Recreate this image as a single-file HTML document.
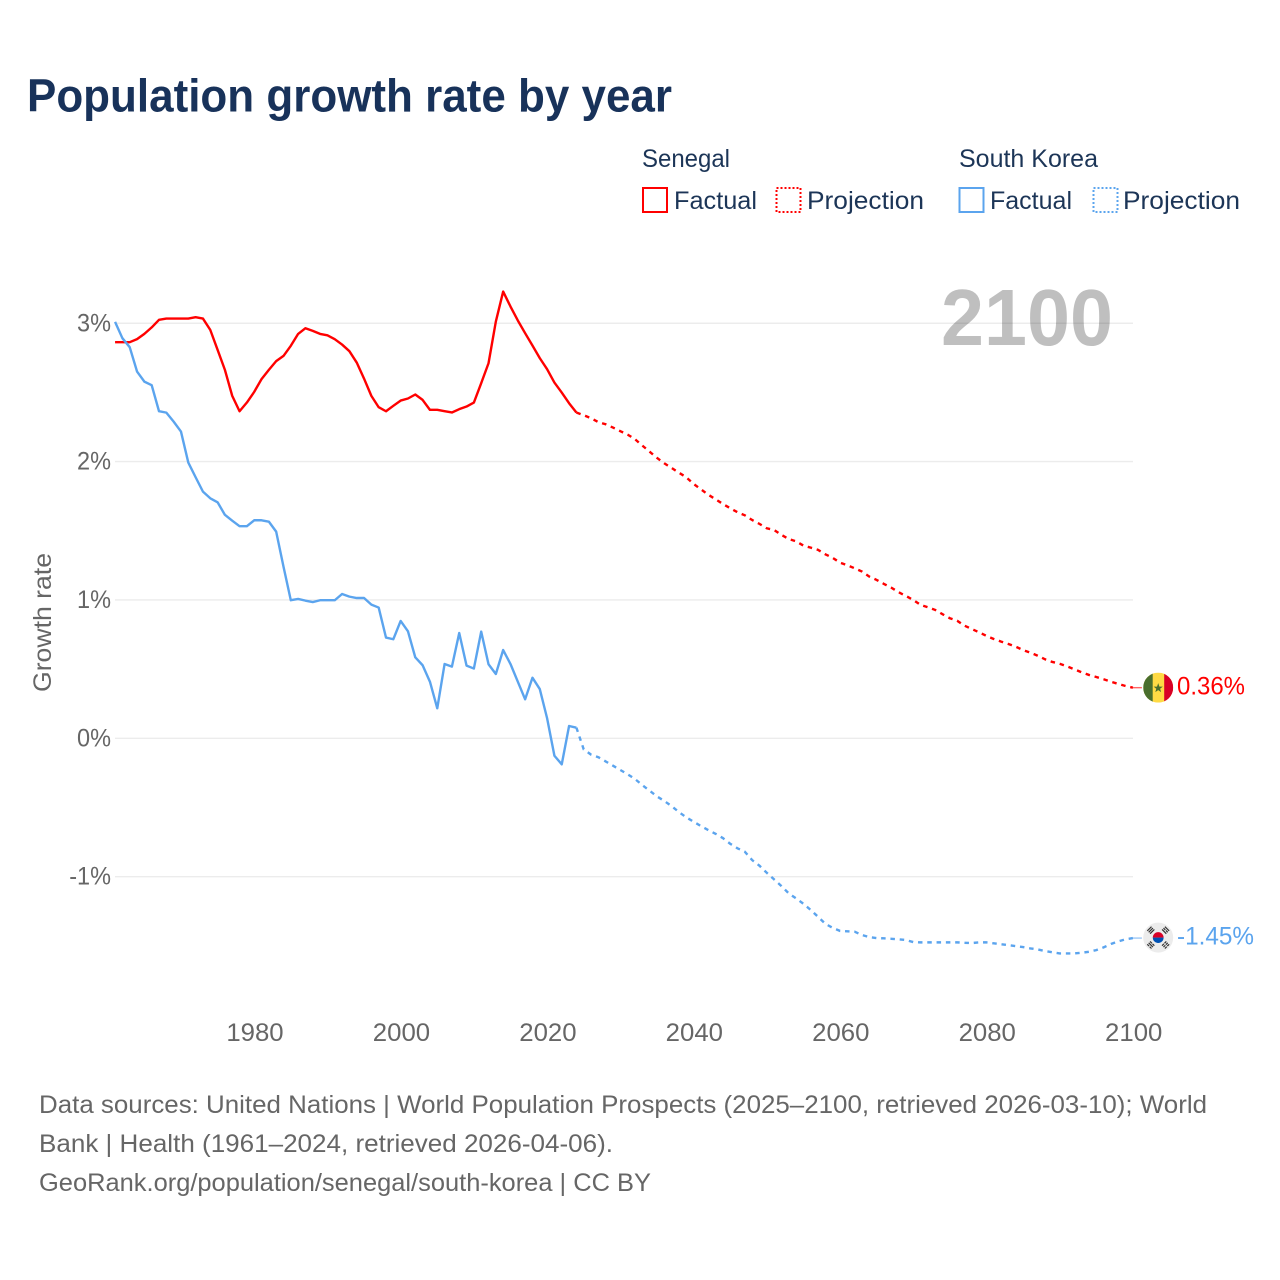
<!DOCTYPE html>
<html lang="en">
<head>
<meta charset="utf-8">
<title>Population growth rate by year</title>
<style>
html,body{margin:0;padding:0;background:#fff;}
svg{display:block;font-family:"Liberation Sans",sans-serif;}
</style>
</head>
<body>
<svg id="chart" xmlns="http://www.w3.org/2000/svg" width="1280" height="1280" viewBox="0 0 1280 1280">
  <rect x="0" y="0" width="1280" height="1280" fill="#ffffff"/>
  <text x="27" y="111.5" font-size="46" font-weight="700" fill="#18325a" textLength="645" lengthAdjust="spacingAndGlyphs">Population growth rate by year</text>

  <g font-size="25" fill="#1c3557">
    <text x="642" y="167" textLength="88" lengthAdjust="spacingAndGlyphs">Senegal</text>
    <text x="959" y="167" textLength="139" lengthAdjust="spacingAndGlyphs">South Korea</text>
    <rect x="643" y="188" width="24" height="24" fill="none" stroke="#ff0000" stroke-width="2"/>
    <text x="674" y="209" textLength="83" lengthAdjust="spacingAndGlyphs">Factual</text>
    <rect x="776.5" y="188" width="24" height="24" fill="none" stroke="#ff0000" stroke-width="2" stroke-dasharray="2 2"/>
    <text x="807" y="209" textLength="117" lengthAdjust="spacingAndGlyphs">Projection</text>
    <rect x="959.5" y="188" width="24" height="24" fill="none" stroke="#5ba4ee" stroke-width="2"/>
    <text x="990" y="209" textLength="82" lengthAdjust="spacingAndGlyphs">Factual</text>
    <rect x="1093.5" y="188" width="24" height="24" fill="none" stroke="#5ba4ee" stroke-width="2" stroke-dasharray="2 2"/>
    <text x="1123" y="209" textLength="117" lengthAdjust="spacingAndGlyphs">Projection</text>
  </g>

  <text transform="translate(51 692) rotate(-90)" font-size="25" fill="#666666" textLength="139" lengthAdjust="spacingAndGlyphs">Growth rate</text>

  <g id="grid"></g>
  <g id="yTicks" font-size="25" fill="#666666" text-anchor="end"></g>
  <g id="xTicks" font-size="25" fill="#666666" text-anchor="middle"></g>
  <text x="1113" y="345" font-size="80" font-weight="700" fill="#000000" fill-opacity="0.25" text-anchor="end" textLength="172" lengthAdjust="spacingAndGlyphs">2100</text>
  <g id="series"></g>

  <g id="flagSn">
    <clipPath id="clipSn"><circle cx="15" cy="15" r="15"/></clipPath>
    <g clip-path="url(#clipSn)">
      <rect x="0" y="0" width="30" height="30" fill="#ffda44"/>
      <rect x="0" y="0" width="9.5" height="30" fill="#496e2d"/>
      <rect x="21" y="0" width="9" height="30" fill="#d80027"/>
      <polygon points="15,10.5 16.2,13.9 19.6,14 16.9,16.1 17.9,19.5 15,17.5 12.1,19.5 13.1,16.1 10.4,14 13.8,13.9" fill="#496e2d"/>
    </g>
  </g>
  <g id="flagKr">
    <circle cx="15" cy="15" r="15" fill="#ececec"/>
    <clipPath id="clipKr"><circle cx="15" cy="15" r="5.4"/></clipPath>
    <g clip-path="url(#clipKr)">
      <rect x="9" y="9" width="12" height="6" fill="#d80027"/>
      <rect x="9" y="15" width="12" height="6" fill="#0052b4"/>
    </g>
    <g fill="#333333">
      <g transform="translate(7.6 7.6) rotate(-45)"><rect x="-3" y="-2.6" width="6" height="1.2"/><rect x="-3" y="-0.6" width="6" height="1.2"/><rect x="-3" y="1.4" width="6" height="1.2"/></g>
      <g transform="translate(22.4 7.6) rotate(45)"><rect x="-3" y="-2.6" width="6" height="1.2"/><rect x="-3" y="-0.6" width="2.6" height="1.2"/><rect x="0.4" y="-0.6" width="2.6" height="1.2"/><rect x="-3" y="1.4" width="6" height="1.2"/></g>
      <g transform="translate(7.6 22.4) rotate(45)"><rect x="-3" y="-2.6" width="2.6" height="1.2"/><rect x="0.4" y="-2.6" width="2.6" height="1.2"/><rect x="-3" y="-0.6" width="6" height="1.2"/><rect x="-3" y="1.4" width="2.6" height="1.2"/><rect x="0.4" y="1.4" width="2.6" height="1.2"/></g>
      <g transform="translate(22.4 22.4) rotate(-45)"><rect x="-3" y="-2.6" width="2.6" height="1.2"/><rect x="0.4" y="-2.6" width="2.6" height="1.2"/><rect x="-3" y="-0.6" width="2.6" height="1.2"/><rect x="0.4" y="-0.6" width="2.6" height="1.2"/><rect x="-3" y="1.4" width="2.6" height="1.2"/><rect x="0.4" y="1.4" width="2.6" height="1.2"/></g>
    </g>
  </g>
  <g id="endLabels" font-size="25"></g>

  <g font-size="25" fill="#666666">
    <text x="39" y="1113" textLength="1168" lengthAdjust="spacingAndGlyphs">Data sources: United Nations | World Population Prospects (2025–2100, retrieved 2026-03-10); World</text>
    <text x="39" y="1152" textLength="574" lengthAdjust="spacingAndGlyphs">Bank | Health (1961–2024, retrieved 2026-04-06).</text>
    <text x="39" y="1191" textLength="612" lengthAdjust="spacingAndGlyphs">GeoRank.org/population/senegal/south-korea | CC BY</text>
  </g>
</svg>
<script>
const factualYears = [1961,1962,1963,1964,1965,1966,1967,1968,1969,1970,1971,1972,1973,1974,1975,1976,1977,1978,1979,1980,1981,1982,1983,1984,1985,1986,1987,1988,1989,1990,1991,1992,1993,1994,1995,1996,1997,1998,1999,2000,2001,2002,2003,2004,2005,2006,2007,2008,2009,2010,2011,2012,2013,2014,2015,2016,2017,2018,2019,2020,2021,2022,2023,2024];
const projectionYears = [2025,2026,2027,2028,2029,2030,2031,2032,2033,2034,2035,2036,2037,2038,2039,2040,2041,2042,2043,2044,2045,2046,2047,2048,2049,2050,2051,2052,2053,2054,2055,2056,2057,2058,2059,2060,2061,2062,2063,2064,2065,2066,2067,2068,2069,2070,2071,2072,2073,2074,2075,2076,2077,2078,2079,2080,2081,2082,2083,2084,2085,2086,2087,2088,2089,2090,2091,2092,2093,2094,2095,2096,2097,2098,2099,2100];
const senegalFactual = [2.863,2.863,2.863,2.885,2.923,2.97,3.025,3.034,3.034,3.034,3.034,3.044,3.034,2.952,2.808,2.663,2.475,2.364,2.427,2.504,2.596,2.663,2.726,2.764,2.837,2.923,2.964,2.945,2.923,2.913,2.885,2.846,2.798,2.716,2.6,2.475,2.393,2.364,2.403,2.441,2.456,2.485,2.446,2.374,2.374,2.364,2.355,2.379,2.398,2.427,2.567,2.711,3.012,3.229,3.121,3.02,2.928,2.839,2.748,2.668,2.571,2.499,2.422,2.355];
const senegalProjection = [2.335,2.314,2.285,2.27,2.246,2.22,2.195,2.162,2.116,2.072,2.027,1.988,1.954,1.92,1.887,1.839,1.8,1.761,1.728,1.694,1.663,1.634,1.612,1.578,1.55,1.518,1.506,1.47,1.441,1.424,1.393,1.378,1.362,1.33,1.304,1.27,1.251,1.229,1.205,1.169,1.145,1.116,1.089,1.056,1.029,1.0,0.964,0.947,0.928,0.897,0.868,0.85,0.814,0.79,0.766,0.74,0.718,0.699,0.682,0.662,0.638,0.619,0.597,0.571,0.552,0.539,0.52,0.499,0.477,0.458,0.443,0.427,0.409,0.393,0.378,0.366];
const koreaFactual = [3.01,2.892,2.827,2.651,2.578,2.552,2.364,2.354,2.289,2.217,1.993,1.887,1.783,1.735,1.706,1.615,1.573,1.533,1.533,1.576,1.576,1.566,1.494,1.241,0.998,1.007,0.995,0.985,0.998,0.998,0.998,1.043,1.024,1.014,1.014,0.966,0.945,0.728,0.716,0.848,0.773,0.585,0.528,0.409,0.217,0.537,0.518,0.761,0.525,0.504,0.771,0.535,0.465,0.638,0.537,0.409,0.282,0.438,0.356,0.145,-0.126,-0.188,0.089,0.077];
const koreaProjection = [-0.08,-0.118,-0.137,-0.167,-0.198,-0.229,-0.26,-0.294,-0.338,-0.379,-0.42,-0.453,-0.49,-0.533,-0.571,-0.603,-0.634,-0.663,-0.69,-0.721,-0.762,-0.795,-0.82,-0.88,-0.921,-0.972,-1.02,-1.068,-1.121,-1.157,-1.196,-1.241,-1.29,-1.341,-1.37,-1.392,-1.395,-1.398,-1.422,-1.437,-1.444,-1.446,-1.449,-1.453,-1.458,-1.473,-1.475,-1.475,-1.475,-1.475,-1.475,-1.475,-1.478,-1.48,-1.475,-1.475,-1.482,-1.489,-1.495,-1.502,-1.509,-1.519,-1.526,-1.538,-1.547,-1.555,-1.555,-1.555,-1.55,-1.543,-1.531,-1.511,-1.487,-1.468,-1.453,-1.444];
const yTickValues = [3,2,1,0,-1];
const yTickLabels = ['3%','2%','1%','0%','-1%'];
const xTickValues = [1980,2000,2020,2040,2060,2080,2100];
const xTickLabels = ['1980','2000','2020','2040','2060','2080','2100'];
const endValueLabels = ['0.36%','-1.45%'];

const SVG_NS = 'http://www.w3.org/2000/svg';
const xScale = function (year) { return 254.2 + (year - 1980) * 7.3225; };
const yScale = function (value) { return 738.3 - value * 138.35; };
const gridLayer = document.getElementById('grid');
const yTickLayer = document.getElementById('yTicks');
const xTickLayer = document.getElementById('xTicks');
const seriesLayer = document.getElementById('series');
const labelLayer = document.getElementById('endLabels');

function makeEl(tag, attrs, parent) {
  const el = document.createElementNS(SVG_NS, tag);
  Object.keys(attrs).forEach(function (k) { el.setAttribute(k, attrs[k]); });
  parent.appendChild(el);
  return el;
}
function fitText(el, ratio) {
  const w = el.getComputedTextLength();
  el.setAttribute('textLength', (w * ratio).toFixed(1));
  el.setAttribute('lengthAdjust', 'spacingAndGlyphs');
}
function linePath(xs, ys) {
  return xs.map(function (year, i) {
    return (i ? 'L' : 'M') + xScale(year).toFixed(2) + ' ' + yScale(ys[i]).toFixed(2);
  }).join(' ');
}

yTickValues.forEach(function (v, i) {
  const line = makeEl('line', { x1: 115, x2: 1133, y1: yScale(v), y2: yScale(v), stroke: '#ececec', 'stroke-width': 1.4 }, gridLayer);
  
  
  const label = makeEl('text', { x: 111, y: yScale(v) + 8 }, yTickLayer);
  
  
  label.textContent = yTickLabels[i];
  fitText(label, 0.94);
});

xTickValues.forEach(function (year, i) {
  const label = makeEl('text', { x: xScale(year) + 0.8, y: 1041 }, xTickLayer);
  
  
  label.textContent = xTickLabels[i];
  fitText(label, 1.03);
});

const lastFactualYear = factualYears[factualYears.length - 1];
const snFactualPath = makeEl('path', { d: linePath(factualYears, senegalFactual), fill: 'none', stroke: '#ff0000', 'stroke-width': 2.4, 'stroke-linejoin': 'round' }, seriesLayer);


const krFactualPath = makeEl('path', { d: linePath(factualYears, koreaFactual), fill: 'none', stroke: '#5ba4ee', 'stroke-width': 2.4, 'stroke-linejoin': 'round' }, seriesLayer);


const snProjectionPath = makeEl('path', { d: linePath([lastFactualYear].concat(projectionYears), [senegalFactual[senegalFactual.length - 1]].concat(senegalProjection)), fill: 'none', stroke: '#ff0000', 'stroke-width': 2.4, 'stroke-dasharray': '4.5 4.8' }, seriesLayer);


const krProjectionPath = makeEl('path', { d: linePath([lastFactualYear].concat(projectionYears), [koreaFactual[koreaFactual.length - 1]].concat(koreaProjection)), fill: 'none', stroke: '#5ba4ee', 'stroke-width': 2.4, 'stroke-dasharray': '4.5 4.8' }, seriesLayer);



const endX = xScale(2100);
const snEndY = yScale(senegalProjection[senegalProjection.length - 1]);
const krEndY = yScale(koreaProjection[koreaProjection.length - 1]);

const snConnector = makeEl('line', { x1: endX, x2: endX + 9, y1: snEndY, y2: snEndY, stroke: '#ff0000', 'stroke-opacity': 0.6, 'stroke-width': 1.4 }, seriesLayer);


const krConnector = makeEl('line', { x1: endX, x2: endX + 9, y1: krEndY, y2: krEndY, stroke: '#5ba4ee', 'stroke-opacity': 0.6, 'stroke-width': 1.4 }, seriesLayer);



document.getElementById('flagSn').setAttribute('transform', 'translate(' + (endX + 10.3) + ' ' + (snEndY - 15) + ')');
document.getElementById('flagKr').setAttribute('transform', 'translate(' + (endX + 10.3) + ' ' + (krEndY - 15.5) + ')');

const snLabel = makeEl('text', { x: 1177, y: snEndY + 7, fill: '#ff0000', textLength: 68, lengthAdjust: 'spacingAndGlyphs' }, labelLayer);


snLabel.textContent = endValueLabels[0];
const krLabel = makeEl('text', { x: 1177, y: krEndY + 6.5, fill: '#5ba4ee', textLength: 77, lengthAdjust: 'spacingAndGlyphs' }, labelLayer);


krLabel.textContent = endValueLabels[1];
</script>
</body>
</html>
